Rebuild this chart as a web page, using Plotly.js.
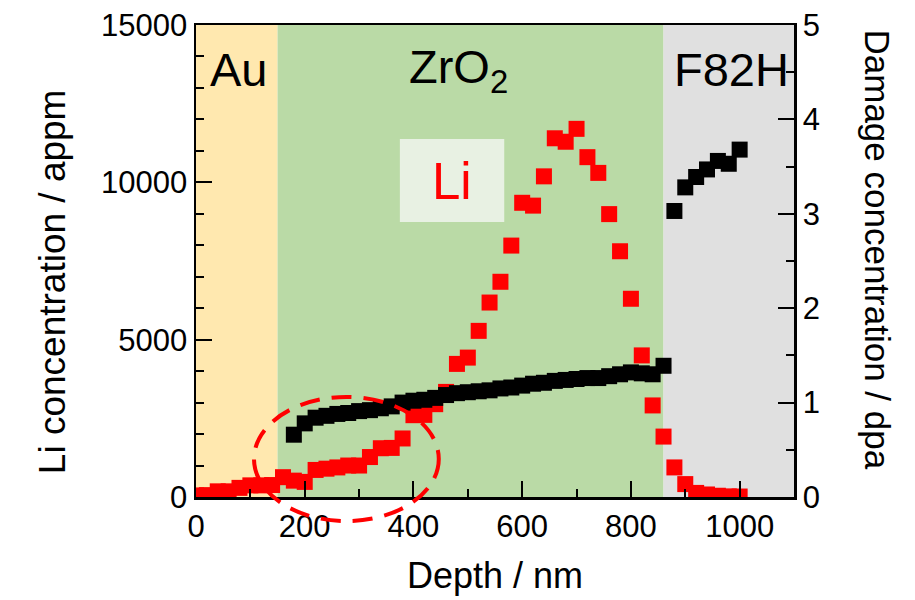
<!DOCTYPE html>
<html>
<head>
<meta charset="utf-8">
<script src="https://cdn.plot.ly/plotly-3.0.1.min.js"></script>
<style>html,body{margin:0;padding:0;background:#fff}#chart{width:915px;height:600px}</style>
</head>
<body>
<div id="chart"></div>
<script>
// Li concentration (appm) vs depth (nm)
const liDepth = [0,20,40,60,80,100,120,140,160,180,200,220,240,260,280,300,320,340,360,380,400,420,440,460,480,500,520,540,560,580,600,620,640,660,680,700,720,740,760,780,800,820,840,860,880,900,920,940,960,980,1000];
const liConc  = [50,60,180,180,290,370,370,380,630,520,480,860,900,940,1000,1000,1270,1550,1560,1860,2600,2610,2950,3340,4230,4430,5280,6180,6840,7990,9350,9260,10190,11400,11290,11700,10800,10300,8990,7810,6300,4500,2910,1920,940,410,130,80,40,20,15];

// Damage concentration (dpa) vs depth (nm)
const dmgDepth = [180,200,220,240,260,280,300,320,340,360,380,400,420,440,460,480,500,520,540,560,580,600,620,640,660,680,700,720,740,760,780,800,820,840,860,880,900,920,940,960,980,1000];
const dmgConc  = [0.66,0.78,0.84,0.86,0.88,0.89,0.91,0.92,0.94,0.96,1.00,1.02,1.03,1.05,1.08,1.10,1.11,1.12,1.13,1.15,1.16,1.18,1.20,1.21,1.23,1.24,1.25,1.26,1.26,1.28,1.30,1.32,1.31,1.30,1.39,3.03,3.28,3.39,3.47,3.56,3.53,3.68];

// layer regions (nm)
const regionNames = ['Au','ZrO<sub>2</sub>','F82H'];
const regionStart = [0,150,860];
const regionEnd   = [150,860,1100];
const regionColors = ['#FFE8AF','#BADAA6','#E0E0E0'];
const regionLabelX = [79,482,985];

const FONT = 'Liberation Sans, Arial, sans-serif';

const shapes = [];
for (let i = 0; i < regionStart.length; i++) {
  shapes.push({type:'rect', xref:'x', yref:'paper', x0:regionStart[i], x1:regionEnd[i], y0:0, y1:1,
    fillcolor:regionColors[i], line:{width:0}, layer:'below'});
}
// "Li" label box
shapes.push({type:'rect', xref:'x', yref:'y', x0:375, x1:567, y0:8740, y1:11380,
  fillcolor:'#E8F1E3', line:{width:0}, layer:'below'});
// dashed ellipse
shapes.push({type:'circle', xref:'paper', yref:'paper', x0:0.097, x1:0.406, y0:-0.051, y1:0.212,
  line:{color:'#FF0000', width:4, dash:'20px,12px'}, layer:'above'});

const annotations = regionNames.map((t,i)=>({
  text:t, x:regionLabelX[i], xref:'x', y:0.905, yref:'paper', showarrow:false,
  xanchor:'center', yanchor:'middle', font:{family:FONT, size:47, color:'#000'}
}));
annotations.push({text:'Li', x:471, xref:'x', y:10040, yref:'y', showarrow:false,
  xanchor:'center', yanchor:'middle', font:{family:FONT, size:51, color:'#FF0000'}});
// axis titles placed as rotated annotations
annotations.push({text:'Li concentration / appm', xref:'paper', yref:'paper', x:-0.241, y:0.457,
  textangle:-90, showarrow:false, xanchor:'center', yanchor:'middle',
  font:{family:FONT, size:37, color:'#000'}});
annotations.push({text:'Damage concentration / dpa', xref:'paper', yref:'paper', x:1.14, y:0.525,
  textangle:90, showarrow:false, xanchor:'center', yanchor:'middle',
  font:{family:FONT, size:35, color:'#000'}});

const traces = [
  {x:liDepth, y:liConc, type:'scatter', mode:'markers', yaxis:'y',
   marker:{symbol:'square', size:16, color:'#FF0000', line:{width:0}}, name:'Li'},
  {x:dmgDepth, y:dmgConc, type:'scatter', mode:'markers', yaxis:'y2',
   marker:{symbol:'square', size:16, color:'#000000', line:{width:0}}, name:'Damage'}
];

const axisCommon = {
  showgrid:false, zeroline:false, showline:true, linecolor:'#000', linewidth:2.5,
  ticks:'inside', ticklen:16, tickwidth:2, tickcolor:'#000',
  tickfont:{family:FONT, size:31, color:'#000'}
};

const layout = {
  width:915, height:600,
  margin:{l:196, r:121, t:25, b:103},
  paper_bgcolor:'#fff', plot_bgcolor:'#fff',
  showlegend:false,
  xaxis:Object.assign({}, axisCommon, {
    range:[0,1100], dtick:200, tick0:0, mirror:true,
    minor:{dtick:100, ticks:'inside', ticklen:8, tickwidth:2, tickcolor:'#000'},
    title:{text:'Depth / nm', font:{family:FONT, size:36, color:'#000'}, standoff:20}
  }),
  yaxis:Object.assign({}, axisCommon, {
    range:[0,15000], dtick:5000, tick0:0, tickformat:'d',
    minor:{dtick:1000, ticks:'inside', ticklen:8, tickwidth:2, tickcolor:'#000'}
  }),
  yaxis2:Object.assign({}, axisCommon, {
    range:[0,5], dtick:1, tick0:0, overlaying:'y', side:'right',
    minor:{dtick:0.5, ticks:'inside', ticklen:8, tickwidth:2, tickcolor:'#000'}
  }),
  shapes:shapes,
  annotations:annotations
};

Plotly.newPlot('chart', traces, layout, {displayModeBar:false, staticPlot:true});
</script>
</body>
</html>
